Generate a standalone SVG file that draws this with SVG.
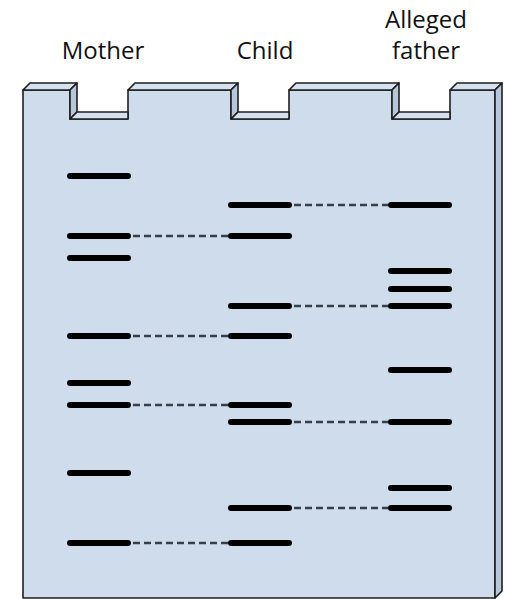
<svg xmlns="http://www.w3.org/2000/svg" width="506" height="599" viewBox="0 0 506 599">
<style>
.lbl{font-family:"Open Sans","Noto Sans",sans-serif;font-size:24px;fill:#111;text-anchor:middle}
.gel{fill:#cfdcec;stroke:#1e1e1e;stroke-width:1.6;stroke-linejoin:round}
.side{fill:#b7c7da;stroke:#1e1e1e;stroke-width:1.6;stroke-linejoin:round}
.top{fill:#d6e1ef;stroke:#1e1e1e;stroke-width:1.6;stroke-linejoin:round}
.band{stroke:#000;stroke-width:6;stroke-linecap:round}
.dash{stroke:#353f4a;stroke-width:2.4;stroke-dasharray:7 4}
</style>
<rect width="506" height="599" fill="#fff"/>
<g id="labels">
<text class="lbl" x="103" y="59">Mother</text>
<text class="lbl" x="265" y="59">Child</text>
<text class="lbl" x="426" y="28">Alleged</text>
<text class="lbl" x="426" y="59">father</text>
</g>
<g id="gel">
<polygon class="gel" points="23,90 70,90 70,119 128,119 128,90 231,90 231,119 289,119 289,90 392,90 392,119 450,119 450,90 495,90 495,598 23,598"/>
<polygon class="top" points="23,90 30,83 77,83 70,90"/>
<polygon class="side" points="70,90 77,83 77,112 70,119"/>
<polygon class="top" points="70,119 77,112 128,112 128,119"/>
<polygon class="top" points="128,90 135,83 238,83 231,90"/>
<polygon class="side" points="231,90 238,83 238,112 231,119"/>
<polygon class="top" points="231,119 238,112 289,112 289,119"/>
<polygon class="top" points="289,90 296,83 399,83 392,90"/>
<polygon class="side" points="392,90 399,83 399,112 392,119"/>
<polygon class="top" points="392,119 399,112 450,112 450,119"/>
<polygon class="top" points="450,90 457,83 502,83 495,90"/>
<polygon class="side" points="495,90 502,83 502,591 495,598"/>
</g>
<g id="connectors">
<line class="dash" x1="133" y1="236" x2="228" y2="236"/>
<line class="dash" x1="133" y1="336" x2="228" y2="336"/>
<line class="dash" x1="133" y1="405" x2="228" y2="405"/>
<line class="dash" x1="133" y1="543" x2="228" y2="543"/>
<line class="dash" x1="294" y1="205" x2="388" y2="205"/>
<line class="dash" x1="294" y1="306" x2="388" y2="306"/>
<line class="dash" x1="294" y1="422" x2="388" y2="422"/>
<line class="dash" x1="294" y1="508" x2="388" y2="508"/>
</g>
<g id="mother">
<line class="band" x1="70" y1="176" x2="128" y2="176"/>
<line class="band" x1="70" y1="236" x2="128" y2="236"/>
<line class="band" x1="70" y1="258" x2="128" y2="258"/>
<line class="band" x1="70" y1="336" x2="128" y2="336"/>
<line class="band" x1="70" y1="383" x2="128" y2="383"/>
<line class="band" x1="70" y1="405" x2="128" y2="405"/>
<line class="band" x1="70" y1="473" x2="128" y2="473"/>
<line class="band" x1="70" y1="543" x2="128" y2="543"/>
</g>
<g id="child">
<line class="band" x1="231" y1="205" x2="289" y2="205"/>
<line class="band" x1="231" y1="236" x2="289" y2="236"/>
<line class="band" x1="231" y1="306" x2="289" y2="306"/>
<line class="band" x1="231" y1="336" x2="289" y2="336"/>
<line class="band" x1="231" y1="405" x2="289" y2="405"/>
<line class="band" x1="231" y1="422" x2="289" y2="422"/>
<line class="band" x1="231" y1="508" x2="289" y2="508"/>
<line class="band" x1="231" y1="543" x2="289" y2="543"/>
</g>
<g id="father">
<line class="band" x1="391" y1="205" x2="449" y2="205"/>
<line class="band" x1="391" y1="271" x2="449" y2="271"/>
<line class="band" x1="391" y1="289" x2="449" y2="289"/>
<line class="band" x1="391" y1="306" x2="449" y2="306"/>
<line class="band" x1="391" y1="370" x2="449" y2="370"/>
<line class="band" x1="391" y1="422" x2="449" y2="422"/>
<line class="band" x1="391" y1="488" x2="449" y2="488"/>
<line class="band" x1="391" y1="508" x2="449" y2="508"/>
</g>
</svg>
